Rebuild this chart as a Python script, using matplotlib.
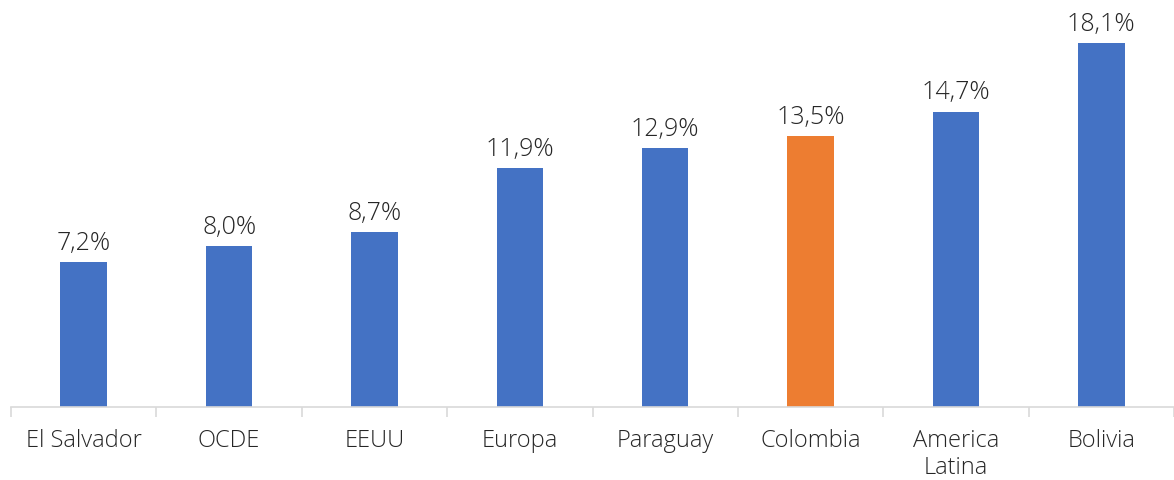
import numpy as np
import matplotlib
matplotlib.use("Agg")
import matplotlib.pyplot as plt

# data
categories = ["El Salvador", "OCDE", "EEUU", "Europa", "Paraguay", "Colombia", "America\nLatina", "Bolivia"]
values = [7.2, 8.0, 8.7, 11.9, 12.9, 13.5, 14.7, 18.1]
highlight = "Colombia"

plt.rcParams['font.family'] = ['Open Sans', 'DejaVu Sans']

fig = plt.figure(figsize=(11.74, 4.81), dpi=100)
ax = fig.add_axes([11/1174, (481-408)/481, 1 - 11/1174, (408-6)/481])

x = np.arange(len(categories))
colors = ["#ED7D31" if c == highlight else "#4472C4" for c in categories]
bars = ax.bar(x, values, width=0.32, color=colors)

for b, v in zip(bars, values):
    ax.text(b.get_x() + b.get_width()/2, v + 0.35, f"{v:.1f}%".replace(".", ","),
            ha="center", va="bottom", fontsize=18, color="#262626", fontweight="light")

ax.set_xlim(-0.5, len(categories) - 0.5)
ax.set_ylim(0, 20)
ax.set_yticks([])
ax.set_xticks(x)
ax.set_xticklabels(categories, fontsize=17, color="#262626", linespacing=1.15, fontweight="light")
ax.tick_params(axis="x", which="major", length=0, pad=15)
ax.set_xticks(np.arange(-0.5, len(categories)), minor=True)
ax.tick_params(axis="x", which="minor", length=7, color="#d9d9d9", width=1.2)
for s in ["top", "right", "left"]:
    ax.spines[s].set_visible(False)
ax.spines["bottom"].set_color("#d9d9d9")
ax.spines["bottom"].set_linewidth(1.2)

fig.savefig("out.png", dpi=100)
